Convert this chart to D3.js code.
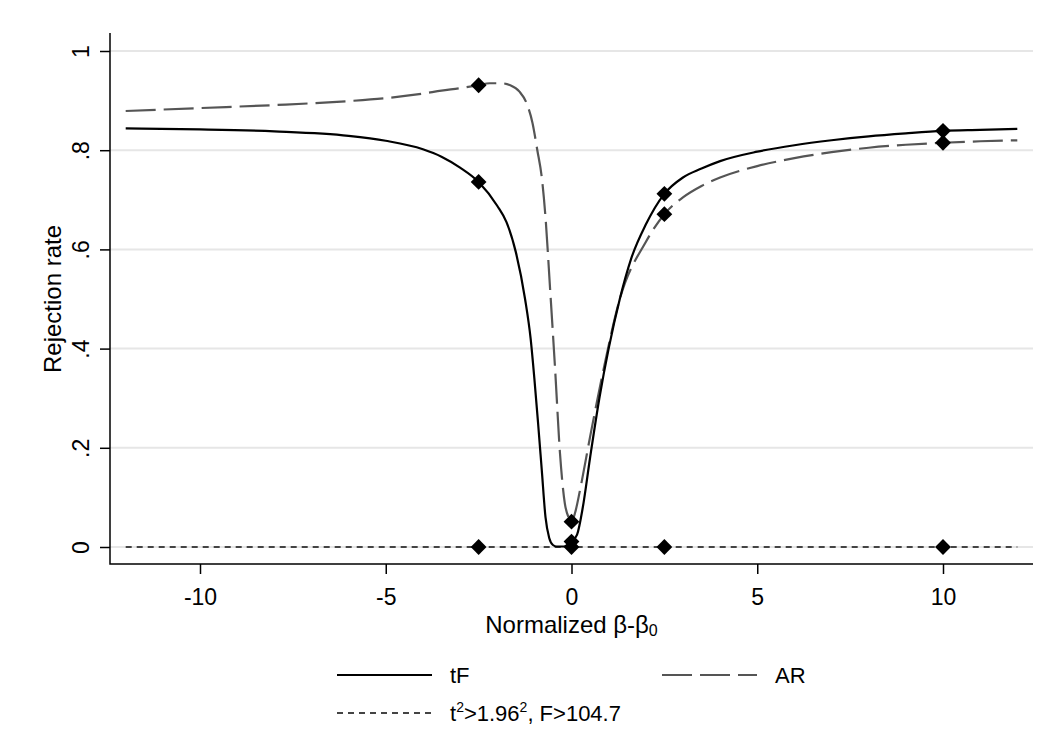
<!DOCTYPE html>
<html>
<head>
<meta charset="utf-8">
<script src="https://cdn.jsdelivr.net/npm/d3@7"></script>
<style>
  html, body { margin: 0; padding: 0; background: #fff; }
  svg text { font-family: "Liberation Sans", Arial, Helvetica, sans-serif; fill: #000; }
</style>
</head>
<body>
<svg id="chart" width="1047" height="735"></svg>
<script>
// Rejection-rate curves against the normalized distance beta - beta0
const tfX = [-12, -10, -8, -6, -5, -4, -3.5, -3, -2.5, -2, -1.75, -1.5, -1.25, -1.1, -1.0, -0.9, -0.8, -0.7, -0.6, -0.5, -0.4, -0.2, 0,
             0.15, 0.3, 0.5, 0.75, 1.0, 1.3, 1.6, 2.0, 2.5, 3, 3.5, 4, 5, 6, 7, 8, 9, 10, 11, 12];
const tfY = [0.844, 0.842, 0.838, 0.829, 0.819, 0.802, 0.787, 0.765, 0.736, 0.688, 0.655, 0.595, 0.500, 0.420, 0.340, 0.250, 0.155, 0.060, 0.018, 0.004, 0.001, 0.001, 0.011,
             0.025, 0.078, 0.180, 0.300, 0.400, 0.500, 0.580, 0.650, 0.712, 0.745, 0.763, 0.778, 0.797, 0.810, 0.820, 0.828, 0.834, 0.839, 0.841, 0.843];

const arX = [-12, -10, -8, -6, -5, -4, -3.5, -3, -2.5, -2.2, -1.9, -1.65, -1.4, -1.2, -1.05, -0.92, -0.8, -0.7, -0.58, -0.44, -0.31, -0.18, -0.08, 0,
             0.1, 0.23, 0.5, 0.86, 1.3, 2.0, 2.5, 3, 3.5, 4, 5, 6, 7, 8, 9, 10, 11, 12];
const arY = [0.879, 0.885, 0.891, 0.899, 0.905, 0.914, 0.920, 0.925, 0.931, 0.935, 0.935, 0.931, 0.918, 0.893, 0.855, 0.800, 0.745, 0.665, 0.525, 0.357, 0.189, 0.088, 0.060, 0.051,
             0.070, 0.115, 0.222, 0.357, 0.500, 0.615, 0.671, 0.705, 0.728, 0.745, 0.768, 0.784, 0.796, 0.805, 0.811, 0.815, 0.818, 0.820];

const naiveX = [-12, -2.5, 0, 2.5, 10, 12];
const naiveY = [0, 0, 0, 0, 0, 0];

// Points where the rejection rates were simulated
const markerX = [-2.5, 0, 2.5, 10];

const xTicks = [-10, -5, 0, 5, 10];
const xTickLabels = ["-10", "-5", "0", "5", "10"];
const yTicks = [0, 0.2, 0.4, 0.6, 0.8, 1];
const yTickLabels = ["0", ".2", ".4", ".6", ".8", "1"];

// Plot region
const plotLeft = 110, plotRight = 1033, plotTop = 33, plotBottom = 564;

const svg = d3.select("#chart");
const x = d3.scaleLinear().domain([-12, 12]).range([125.7, 1017.3]);
const y = d3.scaleLinear().domain([0, 1]).range([547, 51]);

// Horizontal grid
svg.append("g").selectAll("line").data(yTicks).join("line")
  .attr("x1", plotLeft).attr("x2", plotRight)
  .attr("y1", d => y(d)).attr("y2", d => y(d))
  .attr("stroke", "#e6e6e6").attr("stroke-width", 2);

// Axes
const yAxis = svg.append("g").attr("transform", `translate(${plotLeft},0)`)
  .call(d3.axisLeft(y).tickValues(yTicks).tickSize(10).tickPadding(8)
    .tickFormat((d, i) => yTickLabels[i]));
yAxis.select(".domain").remove();
yAxis.selectAll(".tick line").attr("stroke", "#000").attr("stroke-width", 1.5);
yAxis.selectAll(".tick text")
  .attr("font-size", 23).attr("text-anchor", "middle")
  .attr("x", null).attr("dy", null)
  .attr("transform", "translate(-21,0) rotate(-90)");

const xAxis = svg.append("g").attr("transform", `translate(0,${plotBottom})`)
  .call(d3.axisBottom(x).tickValues(xTicks).tickSize(10).tickPadding(8)
    .tickFormat((d, i) => xTickLabels[i]));
xAxis.select(".domain").remove();
xAxis.selectAll(".tick line").attr("stroke", "#000").attr("stroke-width", 1.5);
xAxis.selectAll(".tick text").attr("font-size", 23).attr("dy", null).attr("y", 41);

svg.append("path")
  .attr("d", `M${plotLeft},${plotTop}V${plotBottom}H${plotRight}`)
  .attr("fill", "none").attr("stroke", "#000").attr("stroke-width", 1.5);

// Axis titles
svg.append("text")
  .attr("x", (plotLeft + plotRight) / 2).attr("y", 633)
  .attr("text-anchor", "middle").attr("font-size", 24)
  .call(t => {
    t.append("tspan").text("Normalized β-β");
    t.append("tspan").attr("font-size", 16).attr("dy", 3).text("0");
  });

svg.append("text")
  .attr("transform", `translate(61,${y(0.5)}) rotate(-90)`)
  .attr("text-anchor", "middle").attr("font-size", 24)
  .text("Rejection rate");

// Series
const line = d3.line().x(d => x(d[0])).y(d => y(d[1])).curve(d3.curveMonotoneX);
const series = [
  { name: "naive", xs: naiveX, ys: naiveY, color: "#444", width: 2, dash: "6,5" },
  { name: "AR", xs: arX, ys: arY, color: "#555", width: 2.2, dash: "30,8" },
  { name: "tF", xs: tfX, ys: tfY, color: "#000", width: 2.2, dash: null }
];

const plot = svg.append("g");
series.forEach(s => {
  const pts = s.xs.map((v, i) => [v, s.ys[i]]);
  plot.append("path")
    .datum(pts)
    .attr("d", line)
    .attr("fill", "none")
    .attr("stroke", s.color)
    .attr("stroke-width", s.width)
    .attr("stroke-dasharray", s.dash);
});

// Diamond markers at the simulated points
const diamond = d3.symbol().type(d3.symbolSquare).size(125);
series.forEach(s => {
  const pts = markerX.map(mx => [mx, s.ys[s.xs.indexOf(mx)]]);
  plot.append("g").selectAll("path").data(pts).join("path")
    .attr("d", diamond)
    .attr("transform", d => `translate(${x(d[0])},${y(d[1])}) rotate(45)`)
    .attr("fill", "#000");
});

// Legend
const legend = svg.append("g");
const legendItems = [
  { s: series[2], lx: 337, ly: 675 },
  { s: series[1], lx: 662, ly: 675 },
  { s: series[0], lx: 337, ly: 713 }
];
legendItems.forEach(it => {
  legend.append("line")
    .attr("x1", it.lx).attr("x2", it.lx + 95)
    .attr("y1", it.ly).attr("y2", it.ly)
    .attr("stroke", it.s.color).attr("stroke-width", it.s.width)
    .attr("stroke-dasharray", it.s.dash);
  const t = legend.append("text")
    .attr("x", it.lx + 113).attr("y", it.ly + 8)
    .attr("font-size", 22);
  if (it.s.name === "naive") {
    t.append("tspan").text("t");
    t.append("tspan").attr("font-size", 14).attr("dy", -9).text("2");
    t.append("tspan").attr("dy", 9).text(">1.96");
    t.append("tspan").attr("font-size", 14).attr("dy", -9).text("2");
    t.append("tspan").attr("dy", 9).text(", F>104.7");
  } else {
    t.text(it.s.name);
  }
});
</script>
</body>
</html>
